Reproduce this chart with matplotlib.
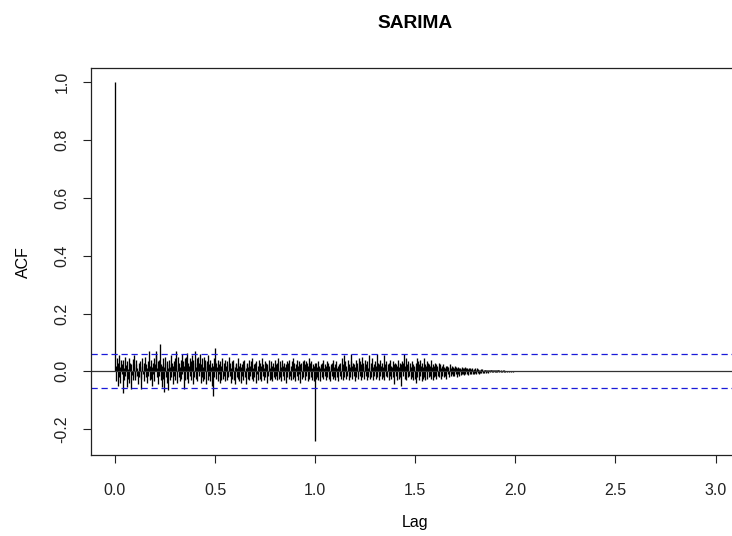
import numpy as np
import matplotlib
matplotlib.use("Agg")
import matplotlib.pyplot as plt

plt.rcParams['font.family'] = ['Liberation Sans', 'DejaVu Sans']

# ---------------- data (ACF of SARIMA residuals, frequency 365) ----------------
frequency = 365
n_obs = 1095
acf_lag0 = 1.0
seasonal_spike = -0.240          # lag 1.0 (k = 365)

# k = 1 .. 364, in thousandths
acf_year1_milli = [
    20, -35, 45, 10, -50, 30, 55, -20, 15, -40,
    38, -10, 25, -75, 40, 12, -30, 50, -15, 22,
    -55, 35, 8, -25, 45, -40, 18, 30, -60, 25,
    -12, 42, -30, 15, 55, -20,
    -30, 25, 40, -15, 10, -45, 30, -20, 15, 35,
    -25, -60, 20, 45, -10, 30, -35, 15, 50, -20,
    25, -40, 10, 35, -15, 70, -30, 20, 40, -25,
    15, -50, 30, -10, 45, -35, 25, 55, 70, -20,
    10, -45, 35, -15, 40, 93, -30, 25, -55, 20,
    45, -25, 15, -70, 30, 50, -20, 35, -40, 10,
    -65, 25, 40, -30, 15, 55, -20, 30, -45, 20,
    35, -15, 45, -30, 70, 10, -40, 25, 50, -20,
    30, -35, 15, 40, -25, 60, -10, 35, -60, 20,
    45, -30, 15, 50, 65, -25, 30, -40, 20, 45,
    -15, 35, -30, 55, 10, -45, 40, -20, 30, 70,
    -25, 15, 45, -35, 20, 50, -15, 30, 60, -40,
    25, -20, 45, 15, -35, 50, -25, 30, 40, -45,
    20, 35, -30, 55, -15, 25, 40, -35, 15, -50,
    30, 20, -85, 45, -20, 35,
    80, -25, 30, 15, -35, 40, -10, 25, -40, 35,
    20, -30, 45, 10, -25, 30, -15, 40, -35, 20,
    15, -30, 35, -20, 25, 50, -15, 30, -40, 10,
    35, -25, 20, 40, -30, 15, -45, 25, 30, -20,
    10, 45, -25, 20, -35, 30, 15, -40, 25, -15,
    35, -30, 20, 40, -20, 10, -45, 30, 25, -25,
    15, 40, -30, 20, -15, 35, -25, 45, 10, -35,
    25, -20, 30, 15, -40, 35, -10, 20, -30, 40,
    15, -25, 30, -35, 20, 45, -15, 25, -30, 10,
    35, -20, 15, 30, -40, 25, -15, 40, 20, -30,
    10, 35, -25, 20, -35, 30, 15, -20, 40, -25,
    25, -15, 30, -30, 45, 10, -25, 35, -20, 15,
    -35, 25, 40, -15, 20, -30, 30, 15, -40, 25,
    35, -20, 10, 30, -25, 40, -15, 20, -30, 35,
    15, -25, 45, -20, 30, 10, -35, 25, -15, 40,
    20, -30, 35, -10, 25, -40, 30, 15, -25, 35,
    -20, 40, 10, -30, 25, 35, -15, 30, -35, 20,
    45, -25, 15, 30, -20, 35, -30, 10, 25, -35,
    20, 30,
]

# k = 366 .. 729, in thousandths
acf_year2_milli = [
    -25, 30, 15, -20, 35, -30, 20, 10, -35, 25,
    15, -20, 30, -25, 40, 10, -15, 25, -30, 20,
    35, -20, 15, 30, -25, 20, -35, 10, 25, -15,
    30, -25, 40, 15, -20, 25, -30, 35, 10, -20,
    20, -35, 25, 15, -15, 30, -25, 45, 10, -30,
    25, 55, -20, 15, 35, -25, 20, -15, 40, 10,
    -30, 25, 15, -20, 35, 60, -25, 20, 30, -15,
    25, -35, 15, 40, -20, 10, 30, -25, 45, 20,
    -15, 35, -30, 25, 50, -20, 15, 30, -25, 20,
    40, -15, 25, -30, 35, 10, -20, 55, 15, -25,
    30, -20, 20, 45, -30, 15, 25, -15, 35, -25,
    20, 60, -20, 30, 15, -30, 25, -15, 40, 20,
    -25, 30, 15, -20, 55, -30, 25, 10, -15, 35,
    -20, 25, 15, -30, 30, -15, 40, 20, -25, 15,
    35, -20, 25, -45, 30, 15, -15, 25, -30, 20,
    40, -25, 15, 30, -20, 25, -50, 35, 20, -15,
    30, 60, -25, 20, 45, -30, 15, 25, -20, 35,
    -15, 20, 30, -25, 15, 35, -20, 25, -30, 20,
    15, -25,
    30, -40, 45, -20, 15, 35, -30, 25, -15, 40,
    20, -35, 30, -25, 15, 45, -20, 25, -30, 20,
    35, -25, 10, 30, -20, 25, -15, 20, 40, -25,
    15, -30, 25, 20, -20, 30, -15, 25, -25, 15,
    20, -15, 30, -20, 15, 25, -25, 10, 20, -15,
    25, -20, 15, 10, -15, 20, -25, 15, 20, -10,
    15, -20, 10, 25, -15, 10, -10, 20, -15, 15,
    10, -15, 20, -10, 15, -20, 10, 15, -10, 12,
    -15, 10, 8, -12, 15, -10, 12, -8, 10, -12,
    15, -8, 10, 12, -10, 8, -12, 10, 6, -8,
    10, -10, 8, 12, -8, 6, -10, 8, -6, 10,
    -8, 6, 10, -6, 8, -8, 6, 5, -6, 8,
    -5, 6, 8, -6, 5, -5, 6, 4, -5, 6,
    5, -4, 6, -5, 4, 5, -4, 3, 5, -4,
    4, -3, 5, 3, -4, 4, -3, 4, 3, -3,
    4, 3, -3, 3, 2, -3, 3, 2, -2, 3,
    2, -2, 3, 2, -2, 2, 1, -2, 2, 1,
    -1, 2, 1, 1, -1, 1, 1, -1, 1, 0, 1, 0,
]

# lags 730 .. 1094: no visible correlation (zero)
acf_tail = [0.0] * 365

assert len(acf_year1_milli) == 364, len(acf_year1_milli)
assert len(acf_year2_milli) == 364, len(acf_year2_milli)

acf_values = np.array([acf_lag0]
                      + [v / 1000 for v in acf_year1_milli]
                      + [seasonal_spike]
                      + [v / 1000 for v in acf_year2_milli]
                      + acf_tail)
lags = np.arange(len(acf_values)) / frequency
conf = 1.96 / np.sqrt(n_obs)

x_ticks = [0.0, 0.5, 1.0, 1.5, 2.0, 2.5, 3.0]
y_ticks = [-0.2, 0.0, 0.2, 0.4, 0.6, 0.8, 1.0]

# ---------------- figure ----------------
W, H = 732, 536
fig = plt.figure(figsize=(W / 100, H / 100), dpi=100)

# R style limits (4% extension)
xr = lags.max() - lags.min()
xlim = (lags.min() - 0.04 * xr, lags.max() + 0.04 * xr)
ylo = min(acf_values.min(), -conf)
yhi = max(acf_values.max(), conf)
yr = yhi - ylo
ylim = (ylo - 0.04 * yr, yhi + 0.04 * yr)

left_px, right_px, top_px, bottom_px = 91, 739, 68, 455
ax = fig.add_axes([left_px / W, (H - bottom_px) / H,
                   (right_px - left_px) / W, (bottom_px - top_px) / H])

ax.vlines(lags, 0, acf_values, colors='black', linewidth=0.95)
ax.axhline(0, color='#333333', linewidth=0.9)
for c in (conf, -conf):
    ax.axhline(c, color='#1a1ad9', linewidth=0.9, linestyle=(0, (5, 3)))

ax.set_xlim(*xlim)
ax.set_ylim(*ylim)
ax.set_xticks(x_ticks)
ax.set_xticklabels([f"{t:.1f}" for t in x_ticks])
ax.set_yticks(y_ticks)
ax.set_yticklabels([f"{t:.1f}" for t in y_ticks], rotation=90, va='center')

ax.tick_params(axis='both', direction='out', length=5.5, width=0.8,
               labelsize=11.5, colors='#222222')
ax.tick_params(axis='x', pad=15)
ax.tick_params(axis='y', pad=10)
for s in ax.spines.values():
    s.set_linewidth(0.9)
    s.set_color('#222222')

fig.text(415 / W, 1 - 23 / H, "SARIMA", ha='center', va='center',
         fontsize=13.8, fontweight='bold')
fig.text(415 / W, 1 - 523 / H, "Lag", ha='center', va='center', fontsize=11.5)
fig.text(23 / W, 1 - 262 / H, "ACF", ha='center', va='center',
         fontsize=11.5, rotation=90)

fig.savefig("out.png", dpi=100)
